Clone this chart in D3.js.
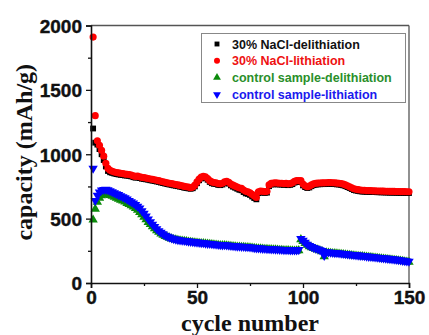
<!DOCTYPE html>
<html>
<head>
<meta charset="utf-8">
<script src="https://cdn.jsdelivr.net/npm/d3@7/dist/d3.min.js"></script>
<style>
  html, body { margin: 0; padding: 0; background: #fff; }
  svg { display: block; }
</style>
</head>
<body>
<svg id="chart" width="429" height="335"></svg>
<script>
// Capacity (mAh/g) per cycle, cycles 1..150
const naclDelithiation = [
  1200,1090,1075,1040,1000,955,905,870,860,855,
  850,846,843,840,838,835,834,832,828,822,
  818,820,815,810,808,805,802,798,795,792,
  788,785,780,776,772,768,765,762,758,755,
  752,748,745,740,738,735,732,736,750,775,
  798,812,818,815,802,785,775,770,768,762,
  760,765,775,780,772,758,748,740,732,724,
  720,706,696,692,684,672,660,650,698,705,
  702,700,702,752,765,766,768,766,765,765,
  762,764,760,762,768,780,785,785,785,758,
  745,738,742,752,760,764,766,767,768,768,
  769,770,770,769,768,766,765,762,758,752,
  745,738,730,722,718,715,712,710,710,708,
  708,707,706,706,705,705,704,704,703,703,
  702,702,702,701,701,700,700,700,699,699
];
const naclLithiation = [
  1910,1300,1105,1070,1030,985,930,890,875,868,
  862,858,855,852,850,846,845,843,838,832,
  828,830,825,820,818,815,812,808,805,802,
  798,795,790,786,782,778,775,772,768,765,
  762,758,755,750,748,745,740,745,760,785,
  808,822,828,825,812,795,785,780,778,772,
  770,775,785,790,782,768,760,752,745,738,
  735,722,712,708,700,688,675,665,708,715,
  712,710,712,762,775,776,778,776,775,775,
  772,774,770,772,778,790,795,795,795,768,
  755,748,752,762,770,774,776,777,778,778,
  779,780,780,779,778,776,775,772,768,762,
  755,748,740,732,728,725,722,720,720,718,
  718,717,716,716,715,715,714,714,713,713,
  712,712,712,711,711,710,710,710,709,709
];
const controlDelithiation = [
  490,575,628,660,680,690,692,688,682,675,
  668,660,652,645,638,630,620,612,602,592,
  580,566,550,532,512,492,472,455,438,422,
  408,395,382,372,362,357,350,344,339,336,
  332,329,327,325,323,320,318,316,314,312,
  310,308,307,305,303,302,300,298,296,294,
  292,291,292,290,288,286,284,283,281,280,
  279,278,277,276,274,272,270,268,267,266,
  264,263,262,261,260,259,258,257,256,255,
  254,253,253,252,251,250,251,253,338,324,
  308,294,284,276,269,263,258,252,245,206,
  236,234,232,230,229,228,226,224,222,220,
  218,216,214,213,211,209,207,206,204,202,
  200,199,197,195,193,191,189,187,186,184,
  182,180,178,176,174,172,169,166,164,162
];
const controlLithiation = [
  890,640,680,705,720,725,726,722,715,708,
  700,692,685,676,668,660,650,640,630,620,
  608,595,580,560,540,518,496,475,455,438,
  420,405,392,380,370,362,355,348,343,340,
  336,333,331,329,327,324,322,320,318,316,
  314,312,311,309,307,306,304,302,300,298,
  296,295,296,294,292,290,288,287,285,284,
  283,282,281,280,278,276,274,272,271,270,
  268,267,266,265,264,263,262,261,260,259,
  258,257,257,256,255,255,256,258,345,330,
  314,300,290,282,275,269,263,257,250,212,
  242,240,238,236,235,234,232,230,228,226,
  224,222,220,219,217,215,213,212,210,208,
  206,205,203,201,199,197,195,193,192,190,
  188,186,184,182,180,178,175,172,170,168
];
const xTicks = [0, 50, 100, 150];
const yTicks = [0, 500, 1000, 1500, 2000];
const legendLabels = [
  "30% NaCl-delithiation",
  "30% NaCl-lithiation",
  "control sample-delithiation",
  "control sample-lithiation"
];

const series = [
  { name: legendLabels[0], values: naclDelithiation, color: "#000000", text: "#111111", symbol: d3.symbolSquare, size: 34, rot: 0 },
  { name: legendLabels[1], values: naclLithiation, color: "#ff0000", text: "#ee1111", symbol: d3.symbolCircle, size: 40, rot: 0 },
  { name: legendLabels[2], values: controlDelithiation, color: "#0a8a0a", text: "#2a8f2a", symbol: d3.symbolTriangle, size: 38, rot: 0 },
  { name: legendLabels[3], values: controlLithiation, color: "#0000ff", text: "#1a1aee", symbol: d3.symbolTriangle, size: 38, rot: 180 }
];

const svg = d3.select("#chart");
const m = { left: 91, top: 25.5, right: 20, bottom: 52 };
const W = 429, H = 335;
const x = d3.scaleLinear().domain([0, 150]).range([m.left, W - m.right]);
const y = d3.scaleLinear().domain([0, 2000]).range([H - m.bottom, m.top]);

// frame: top and right edges
svg.append("line").attr("x1", x(0)).attr("x2", x(150)).attr("y1", y(2000)).attr("y2", y(2000))
  .attr("stroke", "#555").attr("stroke-width", 1.3);
svg.append("line").attr("x1", x(150)).attr("x2", x(150)).attr("y1", y(2000)).attr("y2", y(0))
  .attr("stroke", "#555").attr("stroke-width", 1.3);

// data markers
series.forEach(s => {
  const sym = d3.symbol().type(s.symbol).size(s.size);
  svg.append("g").selectAll("path")
    .data(s.values.map((v, i) => ({ c: i + 1, v })))
    .join("path")
    .attr("d", sym)
    .attr("transform", d => `translate(${x(d.c)},${y(d.v)}) rotate(${s.rot})`)
    .attr("fill", s.color);
});

// axes
const tickFont = "'Liberation Sans', Arial, sans-serif";
const xAxis = svg.append("g").attr("transform", `translate(0,${y(0)})`)
  .call(d3.axisBottom(x).tickValues(xTicks).tickSize(5).tickPadding(1).tickFormat(d3.format("d")));
svg.append("g").attr("transform", `translate(0,${y(0)})`)
  .call(d3.axisBottom(x).tickValues([25, 75, 125]).tickSize(3).tickFormat(""))
  .call(g => g.select(".domain").remove());
const yAxis = svg.append("g").attr("transform", `translate(${x(0)},0)`)
  .call(d3.axisLeft(y).tickValues(yTicks).tickSize(5).tickPadding(4).tickFormat(d3.format("d")));
svg.append("g").attr("transform", `translate(${x(0)},0)`)
  .call(d3.axisLeft(y).tickValues([250, 750, 1250, 1750]).tickSize(3).tickFormat(""))
  .call(g => g.select(".domain").remove());

svg.selectAll(".domain").attr("stroke", "#111").attr("stroke-width", 1.6);
svg.selectAll(".tick line").attr("stroke", "#111").attr("stroke-width", 1.3);
svg.selectAll(".tick text")
  .attr("font-family", tickFont).attr("font-weight", "bold")
  .attr("font-size", 19).attr("fill", "#111")
  .attr("stroke", "#111").attr("stroke-width", 0.4);
xAxis.selectAll(".tick text").attr("dy", "0.78em");
yAxis.selectAll(".tick text").attr("dy", "0.36em");

// axis titles
const titleFont = "'Liberation Serif', 'Times New Roman', serif";
svg.append("text")
  .attr("x", (x(0) + x(150)) / 2).attr("y", 331)
  .attr("text-anchor", "middle")
  .attr("font-family", titleFont).attr("font-weight", "bold").attr("font-size", 24)
  .attr("fill", "#111")
  .text("cycle number");
svg.append("text")
  .attr("transform", `translate(32,${(y(0) + y(2000)) / 2 - 2}) rotate(-90)`)
  .attr("text-anchor", "middle")
  .attr("font-family", titleFont).attr("font-weight", "bold").attr("font-size", 24)
  .attr("fill", "#111")
  .text("capacity (mAh/g)");

// legend
const lg = svg.append("g");
lg.append("rect").attr("x", 201.5).attr("y", 33.5).attr("width", 204).attr("height", 69)
  .attr("fill", "#fff").attr("stroke", "#888").attr("stroke-width", 1);
series.forEach((s, i) => {
  const cy = 44 + i * 16.8;
  lg.append("path")
    .attr("d", d3.symbol().type(s.symbol).size(s.size * 0.7))
    .attr("transform", `translate(217,${cy}) rotate(${s.rot})`)
    .attr("fill", s.color);
  lg.append("text")
    .attr("x", 232).attr("y", cy).attr("dy", "0.36em")
    .attr("font-family", tickFont).attr("font-weight", "bold").attr("font-size", 12.5)
    .attr("fill", s.text)
    .text(s.name);
});
</script>
</body>
</html>
